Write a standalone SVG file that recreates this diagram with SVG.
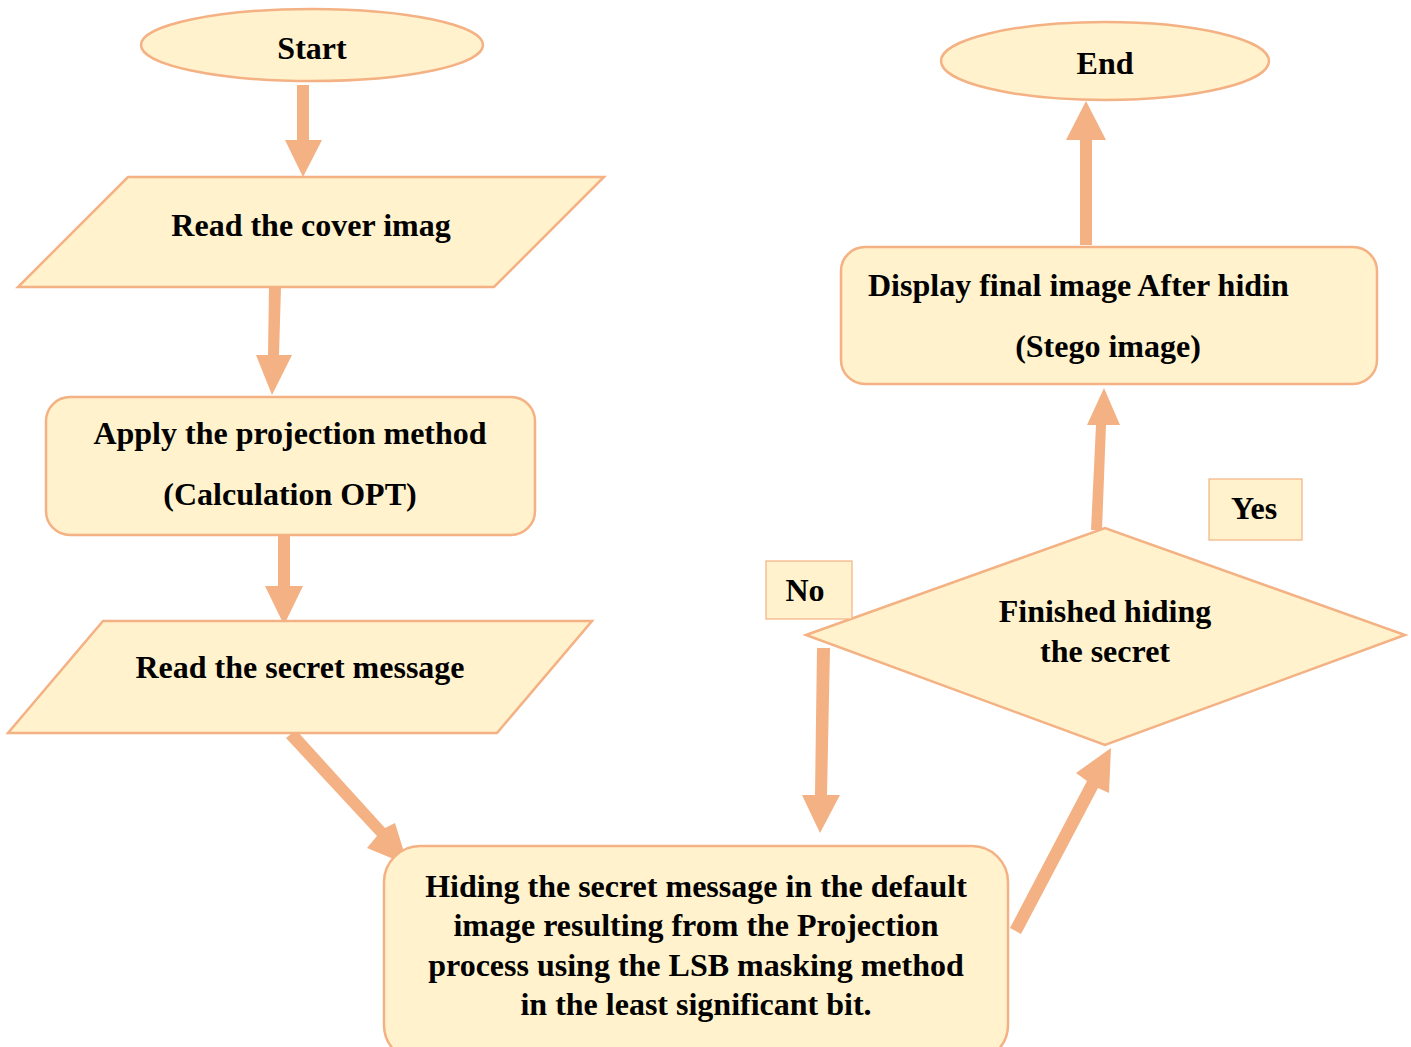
<svg xmlns="http://www.w3.org/2000/svg" width="1411" height="1047" viewBox="0 0 1411 1047">
<style>
.n{fill:#FFF2CC;stroke:#F4B183;stroke-width:2.5}
.t{font-family:"Liberation Serif","Times New Roman",serif;font-weight:bold;font-size:32px;fill:#000;text-anchor:middle}
.a{fill:#F4B183;stroke:none}
</style>
<rect width="1411" height="1047" fill="#fff"/>
<g id="connectors">
<polygon class="a" points="297,85 309,85 309,140 322,140 303,177 285,140 297,140"/>
<polygon class="a" points="269,287 281,287 279,355 292,355 272,395 256,355 268,355"/>
<polygon class="a" points="278,533 290,533 290,586 303,586 284,625 265,586 278,586"/>
<polygon class="a" points="286,738 296,730 385,828 395,823 408,865 367,848 377,836"/>
<polygon class="a" points="817,648 830,648 827,795 840,795 820,833 802,795 815,795"/>
<polygon class="a" points="1010,928 1021,934 1098,788 1109,793 1111,748 1076,773 1087,781"/>
<polygon class="a" points="1091,530 1102,530 1106,425 1120,425 1104,388 1087,425 1096,425"/>
<polygon class="a" points="1080,245 1092,245 1092,140 1106,140 1086,101 1066,140 1080,140"/>
</g>
<g id="start">
<ellipse class="n" cx="312" cy="45" rx="171" ry="36"/>
<text class="t" x="312" y="59">Start</text>
</g>
<g id="read-cover">
<polygon class="n" points="128,177 604,177 494,287 18,287"/>
<text class="t" x="311" y="236">Read the cover imag</text>
</g>
<g id="apply-projection">
<rect class="n" x="46" y="397" width="489" height="138" rx="24"/>
<text class="t" x="290" y="444">Apply the projection method</text>
<text class="t" x="290" y="505">(Calculation OPT)</text>
</g>
<g id="read-secret">
<polygon class="n" points="103,621 592,621 497,733 8,733"/>
<text class="t" x="300" y="678">Read the secret message</text>
</g>
<g id="hiding">
<rect class="n" x="384" y="846" width="624" height="215" rx="36"/>
<text class="t" x="696" y="897">Hiding the secret message in the default</text>
<text class="t" x="696" y="936">image resulting from the Projection</text>
<text class="t" x="696" y="976">process using the LSB masking method</text>
<text class="t" x="696" y="1015">in the least significant bit.</text>
</g>
<g id="decision">
<polygon class="n" points="806,635 1105,528 1405,635 1105,745"/>
<text class="t" x="1105" y="622">Finished hiding</text>
<text class="t" x="1105" y="662">the secret</text>
</g>
<g id="no-label">
<rect x="766" y="561" width="86" height="58" fill="#FFF2CC" stroke="#F4B183" stroke-width="1.2"/>
<text class="t" x="805" y="601">No</text>
</g>
<g id="yes-label">
<rect x="1209" y="479" width="93" height="61" fill="#FFF2CC" stroke="#F4B183" stroke-width="1.2"/>
<text class="t" x="1254" y="519">Yes</text>
</g>
<g id="display">
<rect class="n" x="841" y="247" width="536" height="137" rx="24"/>
<text class="t" x="868" y="296" style="text-anchor:start">Display final image After hidin</text>
<text class="t" x="1108" y="357">(Stego image)</text>
</g>
<g id="end">
<ellipse class="n" cx="1105" cy="61" rx="164" ry="39"/>
<text class="t" x="1105" y="74">End</text>
</g>
</svg>
